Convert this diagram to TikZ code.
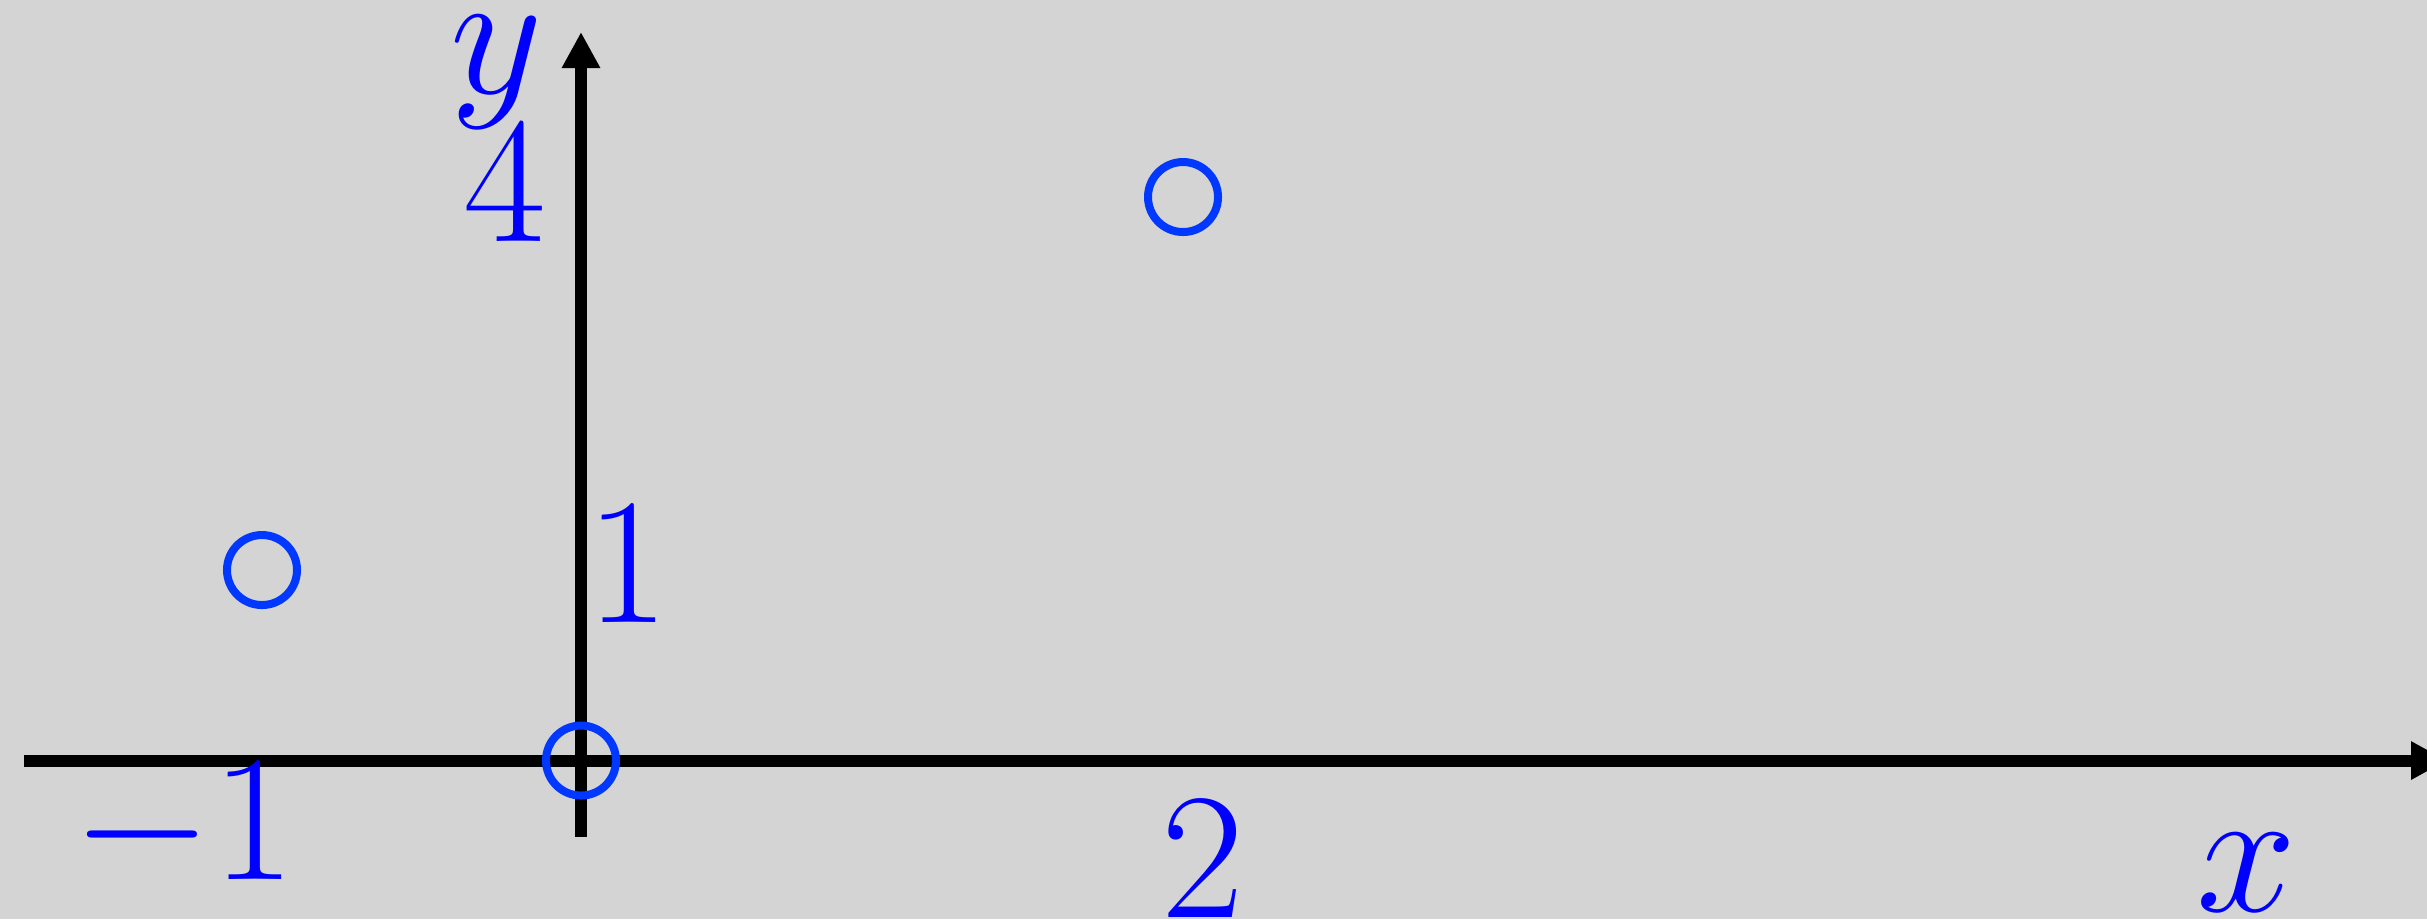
\documentclass[tikz,border=0pt]{standalone}
\usepackage{fix-cm}
\usetikzlibrary{arrows.meta}
\definecolor{bggray}{RGB}{212,212,212}
\definecolor{ringblue}{RGB}{0,56,255}
\tikzset{
  axis/.style={line width=1.2pt},
  axisarrow/.style={axis,-{Triangle[length=3.6pt,width=3.6pt]}},
  ring/.style={circle,draw=ringblue,line width=0.8pt,minimum size=7pt,inner sep=0pt},
  lbl/.style={text=blue,font=\fontsize{18}{22}\selectfont,inner sep=0pt}
}
\begin{document}
\begin{tikzpicture}[x=10pt,y=10pt]
  \fill[bggray] (-5.81,-1.585) rectangle (18.46,7.605);
  \useasboundingbox (-5.81,-1.585) rectangle (18.46,7.605);

  % axes
  \coordinate (xmin) at (-5.57,0);
  \coordinate (xmax) at (18.66,0);
  \coordinate (ymin) at (0,-0.765);
  \coordinate (ymax) at (0,7.285);
  \draw[axisarrow] (xmin) -- (xmax);
  \draw[axisarrow] (ymin) -- (ymax);

  % points
  \foreach \n/\p in {pa/{-3.19,1.905},
                     po/{0,0},
                     pb/{6.02,5.635}}
  {\node[ring] (\n) at (\p) {};
  };

  % labels
  \foreach \n/\p/\str in {lmone/{-3.97,-0.685}/$-1$,
                          ltwo/{6.215,-0.99}/$2$,
                          lx/{16.655,-1.12}/$x$,
                          ly/{-0.84,6.88}/$y$,
                          lfour/{-0.765,5.77}/$4$,
                          lone/{0.47,1.965}/$1$}
  {\node[lbl] (\n) at (\p) {\str};
  };
\end{tikzpicture}
\end{document}
